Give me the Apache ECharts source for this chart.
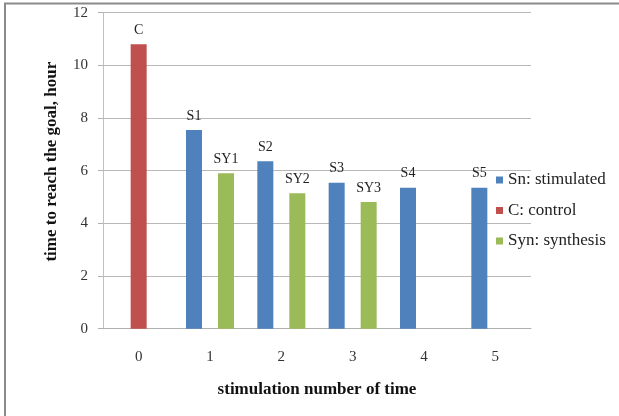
<!DOCTYPE html>
<html>
<head>
<meta charset="utf-8">
<script src="https://cdn.jsdelivr.net/npm/echarts@6/dist/echarts.min.js"></script>
<style>html,body{margin:0;padding:0;background:#fff}#c{width:619px;height:416px}</style>
</head>
<body>
<div id="c"></div>
<script>
const categories = ['0', '1', '2', '3', '4', '5'];
const stimulated = [null, 7.54, 6.36, 5.54, 5.35, 5.35];
const stimulatedLabels = ['', 'S1', 'S2', 'S3', 'S4', 'S5'];
const control = [10.8, null, null, null, null, null];
const controlLabels = ['C', '', '', '', '', ''];
const synthesis = [null, 5.9, 5.14, 4.81, null, null];
const synthesisLabels = ['', 'SY1', 'SY2', 'SY3', '', ''];
const yTicks = { min: 0, max: 12, interval: 2 };

const FONT = 'Liberation Serif';
const chart = echarts.init(document.getElementById('c'));
function lbl(arr) {
  return {
    show: true, position: 'top', distance: 7,
    fontFamily: FONT, fontSize: 14, color: '#222',
    formatter: p => arr[p.dataIndex]
  };
}
chart.setOption({
  animation: false,
  textStyle: { fontFamily: FONT },
  graphic: [{
    type: 'rect', silent: true,
    shape: { x: 5, y: 3.5, width: 700, height: 500 },
    style: { fill: 'none', stroke: '#8a8a8a', lineWidth: 2 }
  }],
  grid: { left: 103, right: 88, top: 12.6, bottom: 87.3 },
  legend: {
    orient: 'vertical', left: 491, top: 166.5,
    itemWidth: 7, itemHeight: 7, itemGap: 13.5, icon: 'rect',
    textStyle: { fontFamily: FONT, fontSize: 17, color: '#222' },
    data: ['Sn: stimulated', 'C: control', 'Syn: synthesis']
  },
  xAxis: {
    type: 'category', data: categories,
    name: 'stimulation number of time', nameLocation: 'middle', nameGap: 52,
    nameTextStyle: { fontFamily: FONT, fontSize: 17, fontWeight: 'bold', color: '#111' },
    axisLine: { lineStyle: { color: '#b0b0b0', width: 1 } },
    axisTick: { length: 5, lineStyle: { color: '#b0b0b0' } },
    axisLabel: { fontFamily: FONT, fontSize: 15, color: '#333', margin: 21 }
  },
  yAxis: {
    type: 'value', min: yTicks.min, max: yTicks.max, interval: yTicks.interval,
    name: 'time to reach the goal, hour', nameLocation: 'middle', nameGap: 43, nameRotate: 90,
    nameTextStyle: { fontFamily: FONT, fontSize: 17, fontWeight: 'bold', color: '#111', padding: [0, 0, 0, 18] },
    axisLine: { show: true, lineStyle: { color: '#c0c0c0', width: 1 } },
    axisTick: { show: true, length: 5, lineStyle: { color: '#b0b0b0' } },
    axisLabel: { fontFamily: FONT, fontSize: 15, color: '#333', margin: 15 },
    splitLine: { lineStyle: { color: '#b8b8b8', width: 1 } }
  },
  series: [
    { name: 'Sn: stimulated', type: 'bar', data: stimulated, barWidth: 16, barGap: '0%',
      itemStyle: { color: '#4f81bd' }, label: lbl(stimulatedLabels) },
    { name: 'C: control', type: 'bar', data: control, barWidth: 16, barGap: '0%',
      itemStyle: { color: '#c0504d' }, label: lbl(controlLabels) },
    { name: 'Syn: synthesis', type: 'bar', data: synthesis, barWidth: 16, barGap: '0%',
      itemStyle: { color: '#9bbb59' }, label: lbl(synthesisLabels) }
  ]
});
</script>
</body>
</html>
